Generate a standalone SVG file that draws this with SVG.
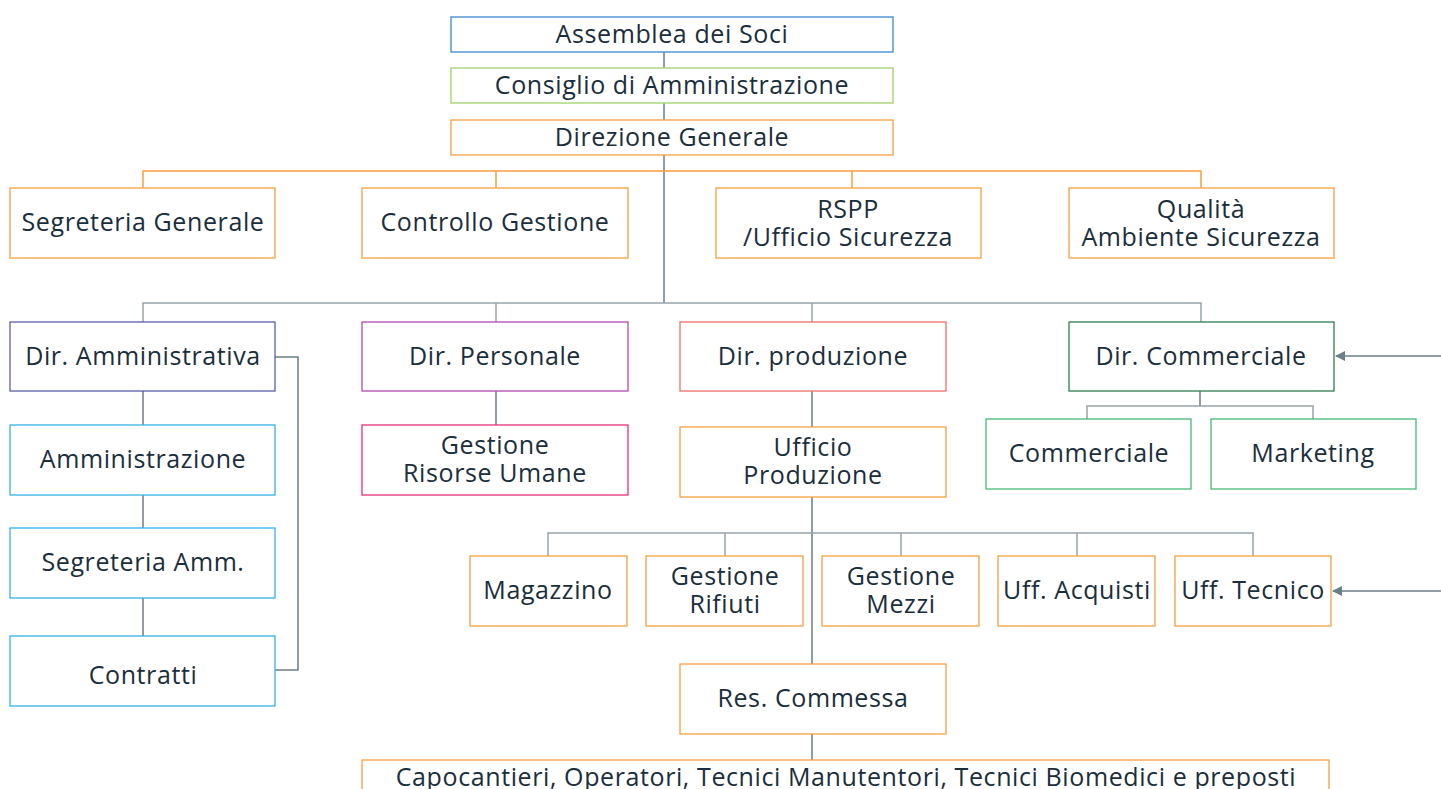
<svg xmlns="http://www.w3.org/2000/svg" width="1441" height="789" viewBox="0 0 1441 789">
<defs>
<style>
rect{fill:#fff;stroke-width:1.3}
text{font-family:"Open Sans","Liberation Sans",sans-serif;font-size:25px;letter-spacing:0.6px;fill:#1a2e3b;text-anchor:middle;dominant-baseline:central}
.or{stroke:#f5a040}
.bl{stroke:#3a87c8}
.gr{stroke:#9fd36b}
.ind{stroke:#5a5fa8}
.pur{stroke:#b04ab0}
.red{stroke:#ef6f68}
.dg{stroke:#2e7d50}
.lg{stroke:#45b878}
.lb{stroke:#35b3e3}
.pk{stroke:#e8317a}
.c path{fill:none;stroke:#6b7d86;stroke-width:1.5}
.c path.o{stroke:#f5a040}
.c path.l{stroke:#97a4ab}
</style>
<marker id="ah" markerWidth="10" markerHeight="10" refX="9" refY="5" orient="auto" markerUnits="userSpaceOnUse"><path d="M0,0 L10,5 L0,10 Z" fill="#6b7d86"/></marker>
</defs>
<g class="c" id="connectors">
<path d="M664,52V303"/>
<path class="o" d="M143,188V171H1201V188M496,171V188M852,171V188"/>
<path class="l" d="M143,322V303H1201V322M496,303V322M812,303V322"/>
<path d="M143,391V425M143,495V528M143,598V636"/>
<path d="M275,357H298V670H275"/>
<path d="M496,391V425"/>
<path d="M812,391V427M812,497V664M812,734V760"/>
<path d="M1200,391V406"/>
<path class="l" d="M1087,419V406H1313V419"/>
<path class="l" d="M548,556V533H1253V556M725,533V556M901,533V556M1077,533V556"/>
<path d="M1441,356H1336" marker-end="url(#ah)"/>
<path d="M1441,591H1333" marker-end="url(#ah)"/>
</g>
<g id="assemblea"><rect class="bl" x="451" y="17" width="442" height="35"/><text x="672" y="33">Assemblea dei Soci</text></g>
<g id="consiglio"><rect class="gr" x="451" y="68" width="442" height="35"/><text x="672" y="84">Consiglio di Amministrazione</text></g>
<g id="direzione"><rect class="or" x="451" y="120" width="442" height="35"/><text x="672" y="136">Direzione Generale</text></g>
<g id="segreteria"><rect class="or" x="10" y="188" width="265" height="70"/><text x="143" y="221">Segreteria Generale</text></g>
<g id="controllo"><rect class="or" x="362" y="188" width="266" height="70"/><text x="495" y="221">Controllo Gestione</text></g>
<g id="rspp"><rect class="or" x="716" y="188" width="265" height="70"/><text x="848" y="208">RSPP</text><text x="848" y="236">/Ufficio Sicurezza</text></g>
<g id="qualita"><rect class="or" x="1069" y="188" width="265" height="70"/><text x="1201" y="208">Qualità</text><text x="1201" y="236">Ambiente Sicurezza</text></g>
<g id="dir-amm"><rect class="ind" x="10" y="322" width="265" height="69"/><text x="143" y="355">Dir. Amministrativa</text></g>
<g id="dir-pers"><rect class="pur" x="362" y="322" width="266" height="69"/><text x="495" y="355">Dir. Personale</text></g>
<g id="dir-prod"><rect class="red" x="680" y="322" width="266" height="69"/><text x="813" y="355">Dir. produzione</text></g>
<g id="dir-comm"><rect class="dg" x="1069" y="322" width="265" height="69"/><text x="1201" y="355">Dir. Commerciale</text></g>
<g id="amministrazione"><rect class="lb" x="10" y="425" width="265" height="70"/><text x="143" y="458">Amministrazione</text></g>
<g id="segreteria-amm"><rect class="lb" x="10" y="528" width="265" height="70"/><text x="143" y="561">Segreteria Amm.</text></g>
<g id="contratti"><rect class="lb" x="10" y="636" width="265" height="70"/><text x="143" y="674">Contratti</text></g>
<g id="risorse-umane"><rect class="pk" x="362" y="425" width="266" height="70"/><text x="495" y="444">Gestione</text><text x="495" y="472">Risorse Umane</text></g>
<g id="ufficio-prod"><rect class="or" x="680" y="427" width="266" height="70"/><text x="813" y="446">Ufficio</text><text x="813" y="474">Produzione</text></g>
<g id="commerciale"><rect class="lg" x="986" y="419" width="205" height="70"/><text x="1089" y="452">Commerciale</text></g>
<g id="marketing"><rect class="lg" x="1211" y="419" width="205" height="70"/><text x="1313" y="452">Marketing</text></g>
<g id="magazzino"><rect class="or" x="470" y="556" width="157" height="70"/><text x="548" y="589">Magazzino</text></g>
<g id="rifiuti"><rect class="or" x="646" y="556" width="157" height="70"/><text x="725" y="575">Gestione</text><text x="725" y="603">Rifiuti</text></g>
<g id="mezzi"><rect class="or" x="822" y="556" width="157" height="70"/><text x="901" y="575">Gestione</text><text x="901" y="603">Mezzi</text></g>
<g id="acquisti"><rect class="or" x="998" y="556" width="157" height="70"/><text x="1077" y="589">Uff. Acquisti</text></g>
<g id="tecnico"><rect class="or" x="1175" y="556" width="156" height="70"/><text x="1253" y="589">Uff. Tecnico</text></g>
<g id="res-commessa"><rect class="or" x="680" y="664" width="266" height="70"/><text x="813" y="697">Res. Commessa</text></g>
<g id="capocantieri"><rect class="or" x="362" y="760" width="967" height="60"/><text x="846" y="776">Capocantieri, Operatori, Tecnici Manutentori, Tecnici Biomedici e preposti</text></g>
</svg>
